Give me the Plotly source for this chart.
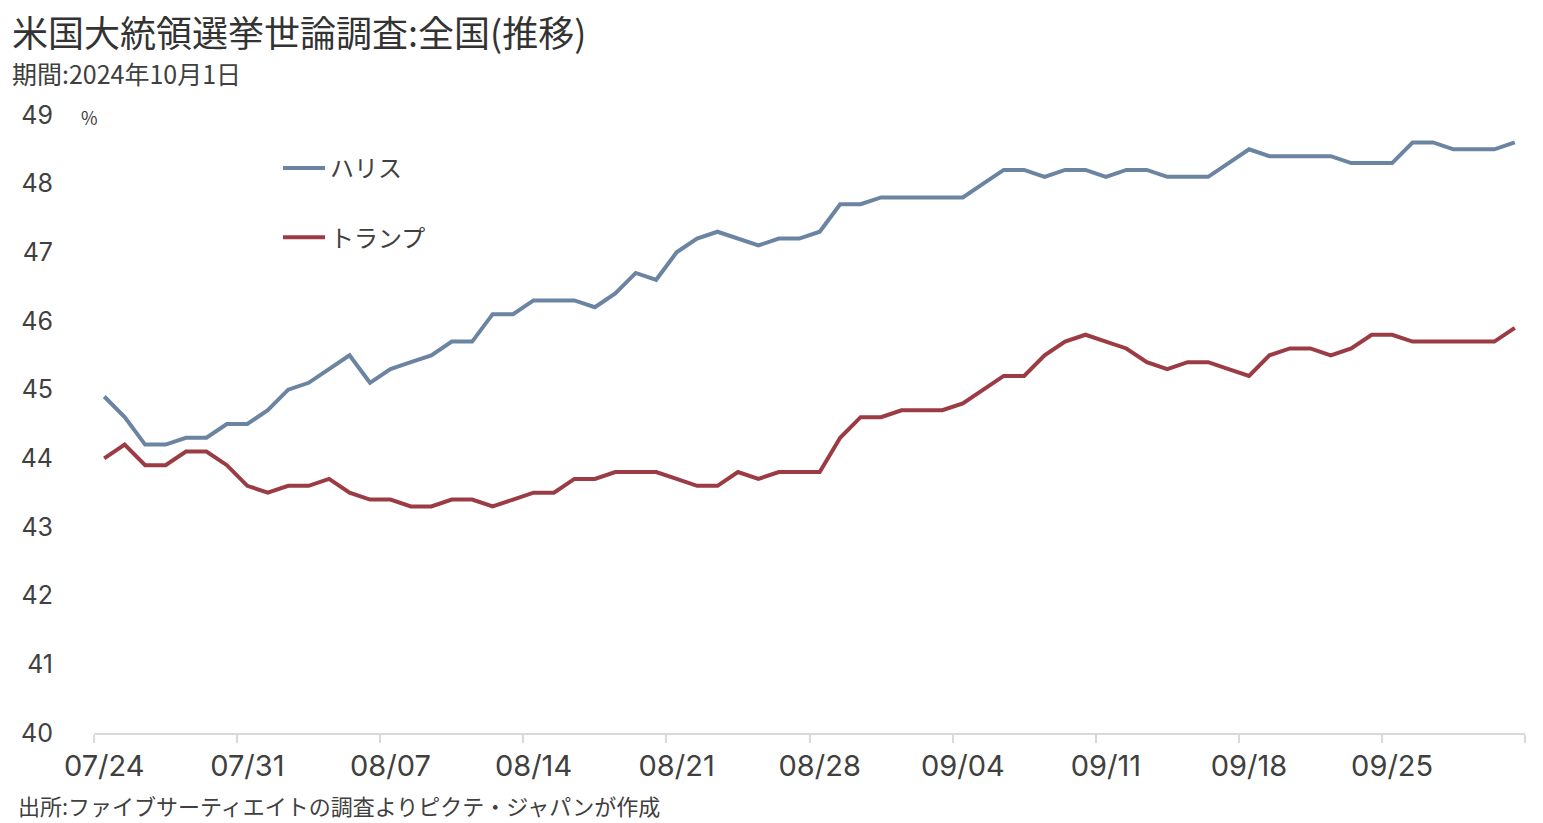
import pandas as pd
import plotly.graph_objects as go

# Dates (daily, 07/24 – 10/01)
dates = pd.date_range("2024-07-24", "2024-10-01").strftime("%m/%d").tolist()

harris = [44.9, 44.6, 44.2, 44.2, 44.3, 44.3, 44.5, 44.5, 44.7, 45.0,
          45.1, 45.3, 45.5, 45.1, 45.3, 45.4, 45.5, 45.7, 45.7, 46.1,
          46.1, 46.3, 46.3, 46.3, 46.2, 46.4, 46.7, 46.6, 47.0, 47.2,
          47.3, 47.2, 47.1, 47.2, 47.2, 47.3, 47.7, 47.7, 47.8, 47.8,
          47.8, 47.8, 47.8, 48.0, 48.2, 48.2, 48.1, 48.2, 48.2, 48.1,
          48.2, 48.2, 48.1, 48.1, 48.1, 48.3, 48.5, 48.4, 48.4, 48.4,
          48.4, 48.3, 48.3, 48.3, 48.6, 48.6, 48.5, 48.5, 48.5, 48.6]

trump = [44.0, 44.2, 43.9, 43.9, 44.1, 44.1, 43.9, 43.6, 43.5, 43.6,
         43.6, 43.7, 43.5, 43.4, 43.4, 43.3, 43.3, 43.4, 43.4, 43.3,
         43.4, 43.5, 43.5, 43.7, 43.7, 43.8, 43.8, 43.8, 43.7, 43.6,
         43.6, 43.8, 43.7, 43.8, 43.8, 43.8, 44.3, 44.6, 44.6, 44.7,
         44.7, 44.7, 44.8, 45.0, 45.2, 45.2, 45.5, 45.7, 45.8, 45.7,
         45.6, 45.4, 45.3, 45.4, 45.4, 45.3, 45.2, 45.5, 45.6, 45.6,
         45.5, 45.6, 45.8, 45.8, 45.7, 45.7, 45.7, 45.7, 45.7, 45.9]

series_names = ["ハリス", "トランプ"]
series_colors = ["#6a84a2", "#9b3c44"]

title_text = "米国大統領選挙世論調査:全国(推移)"
subtitle_text = "期間:2024年10月1日"
source_text = "出所:ファイブサーティエイトの調査よりピクテ・ジャパンが作成"
unit_text = "%"

JP = "Noto Sans CJK JP"
NUM = "Inter"

fig = go.Figure()
for name, vals, col, grp in zip(series_names, [harris, trump], series_colors, ["a", "b"]):
    fig.add_trace(go.Scatter(x=dates, y=vals, mode="lines", name=name,
                             legendgroup=grp,
                             line=dict(color=col, width=4)))

W, H = 1543, 823
L, R, T, B = 94, 18, 115, 90
pw = W - L - R
ph = H - T - B

def px_x(px):
    return (px - L) / pw

def px_y(py):
    return (H - B - py) / ph

fig.update_layout(
    width=W, height=H,
    margin=dict(l=L, r=R, t=T, b=B),
    paper_bgcolor="white", plot_bgcolor="white",
    showlegend=True,
    legend=dict(x=px_x(278), y=px_y(146), xanchor="left", yanchor="top",
                font=dict(family=JP, size=24, color="#404040"),
                tracegroupgap=35, bgcolor="rgba(0,0,0,0)",
                itemwidth=42),
    xaxis=dict(type="category", tickson="boundaries", dtick=7,
               ticks="outside", ticklen=8, tickwidth=2, tickcolor="#d9d9d9",
               showline=True, linecolor="#d9d9d9", linewidth=2,
               showgrid=False, zeroline=False, tickangle=0,
               tickfont=dict(family=NUM, size=29, color="#404040"),
               ticklabelstandoff=6,
               range=[-0.5, len(dates) - 0.5]),
    yaxis=dict(range=[40, 49], dtick=1, showgrid=False, zeroline=False,
               showline=False, ticks="",
               tickfont=dict(family=NUM, size=25, color="#404040"),
               ticklabelstandoff=40),
    annotations=[
        dict(text=title_text, x=px_x(10), y=px_y(31), xref="paper", yref="paper",
             xanchor="left", yanchor="middle", showarrow=False,
             font=dict(family=JP, size=36, color="#333333")),
        dict(text=subtitle_text, x=px_x(10), y=px_y(73), xref="paper", yref="paper",
             xanchor="left", yanchor="middle", showarrow=False,
             font=dict(family=JP, size=25, color="#404040")),
        dict(text=unit_text, x=px_x(79), y=px_y(117), xref="paper", yref="paper",
             xanchor="left", yanchor="middle", showarrow=False,
             font=dict(family=JP, size=18, color="#404040")),
        dict(text=source_text, x=px_x(16), y=px_y(805), xref="paper", yref="paper",
             xanchor="left", yanchor="middle", showarrow=False,
             font=dict(family=JP, size=22, color="#404040")),
    ],
)

fig.write_html("out.html", config={"displayModeBar": False},
               post_script="document.body.style.margin='0';")
